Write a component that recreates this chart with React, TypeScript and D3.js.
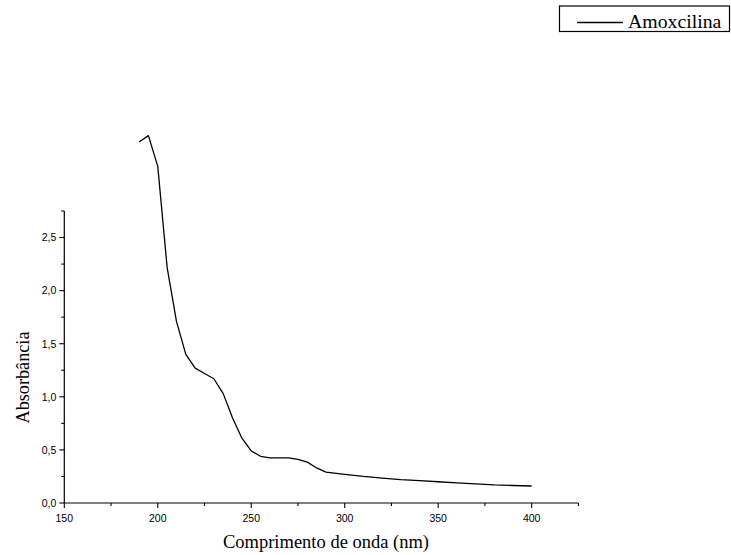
import React from "react";
import * as d3 from "d3";

const wavelengths = [190, 195, 200, 205, 210, 215, 220, 225, 230, 235, 240, 245, 250, 255, 260, 265, 270, 275, 280, 285, 290, 300, 310, 320, 330, 340, 350, 360, 370, 380, 390, 400];
const absorbance = [3.40, 3.46, 3.17, 2.22, 1.71, 1.40, 1.27, 1.22, 1.17, 1.03, 0.80, 0.61, 0.49, 0.44, 0.425, 0.425, 0.425, 0.41, 0.385, 0.33, 0.29, 0.27, 0.25, 0.235, 0.22, 0.21, 0.20, 0.19, 0.18, 0.17, 0.165, 0.16];
const xMajorTicks = [150, 200, 250, 300, 350, 400];
const xMinorTicks = [175, 225, 275, 325, 375, 425];
const yMajorTicks = [0, 0.5, 1.0, 1.5, 2.0, 2.5];
const yMinorTicks = [0.25, 0.75, 1.25, 1.75, 2.25, 2.75];
const seriesName = "Amoxcilina";
const xTitle = "Comprimento de onda (nm)";
const yTitle = "Absorbância";

const W = 731;
const H = 555;

export default function App() {
  const x = d3.scaleLinear().domain([150, 425]).range([64.3, 578.4]);
  const y = d3.scaleLinear().domain([0, 2.75]).range([503, 211]);
  const data = wavelengths.map((w, i) => [w, absorbance[i]] as [number, number]);
  const line = d3.line<[number, number]>().x((d) => x(d[0])).y((d) => y(d[1]));
  const fmt = (v: number) => v.toFixed(1).replace(".", ",");
  const x0 = x(150);
  const y0 = y(0);

  return (
    <svg width={W} height={H} style={{ position: "fixed", left: 0, top: 0, background: "#fff" }}>
      <rect x={0} y={0} width={W} height={H} fill="#fff" />
      {/* axes */}
      <line x1={x0} x2={x(425)} y1={y0} y2={y0} stroke="#000" strokeWidth={1.2} />
      <line x1={x0} x2={x0} y1={y0} y2={y(2.75)} stroke="#000" strokeWidth={1.2} />
      {xMajorTicks.map((t) => (
        <g key={"xm" + t}>
          <line x1={x(t)} x2={x(t)} y1={y0} y2={y0 + 5} stroke="#000" strokeWidth={1.1} />
          <text x={x(t)} y={522} fontFamily="Liberation Sans, Arial, sans-serif" fontSize={10.5} textAnchor="middle" fill="#000">{t}</text>
        </g>
      ))}
      {xMinorTicks.map((t) => (
        <line key={"xn" + t} x1={x(t)} x2={x(t)} y1={y0} y2={y0 + 3} stroke="#000" strokeWidth={1.1} />
      ))}
      {yMajorTicks.map((t) => (
        <g key={"ym" + t}>
          <line x1={x0 - 5} x2={x0} y1={y(t)} y2={y(t)} stroke="#000" strokeWidth={1.1} />
          <text x={x0 - 8} y={y(t) + 3.8} fontFamily="Liberation Sans, Arial, sans-serif" fontSize={10.5} textAnchor="end" fill="#000">{fmt(t)}</text>
        </g>
      ))}
      {yMinorTicks.map((t) => (
        <line key={"yn" + t} x1={x0 - 3} x2={x0} y1={y(t)} y2={y(t)} stroke="#000" strokeWidth={1.1} />
      ))}
      {/* titles */}
      <text x={326} y={548} fontFamily="Liberation Serif, Times New Roman, serif" fontSize={18.5} textAnchor="middle" fill="#000">{xTitle}</text>
      <text transform="translate(29,377.5) rotate(-90)" fontFamily="Liberation Serif, Times New Roman, serif" fontSize={18.2} textAnchor="middle" fill="#000">{yTitle}</text>
      {/* data line */}
      <path d={line(data) || ""} fill="none" stroke="#000" strokeWidth={1.3} strokeLinejoin="round" />
      {/* legend */}
      <rect x={559.5} y={6} width={170} height={25.5} fill="#fff" stroke="#000" strokeWidth={1.2} />
      <line x1={577} x2={623} y1={22.5} y2={22.5} stroke="#000" strokeWidth={1.3} />
      <text x={628} y={27.5} fontFamily="Liberation Serif, Times New Roman, serif" fontSize={19.8} fill="#000">{seriesName}</text>
    </svg>
  );
}
